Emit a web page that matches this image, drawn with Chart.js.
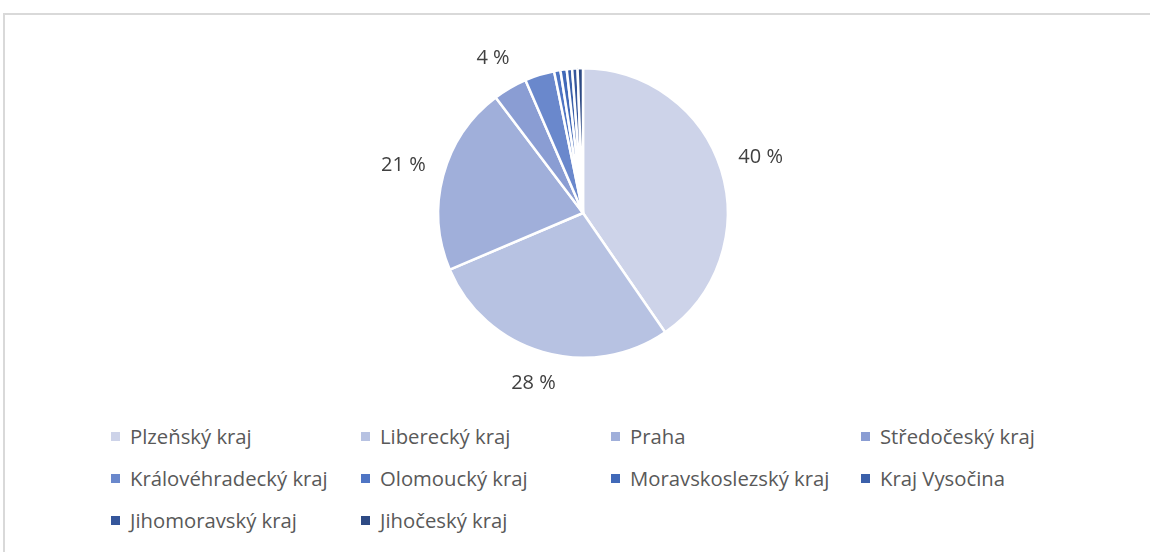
<!DOCTYPE html>
<html>
<head>
<meta charset="utf-8">
<script src="https://cdn.jsdelivr.net/npm/chart.js@4.4.0/dist/chart.umd.min.js"></script>
<style>
  html, body { margin: 0; padding: 0; background: #fff; }
  #wrap { position: relative; width: 1150px; height: 552px; overflow: hidden; }
  #frame { position: absolute; left: 3px; top: 13px; width: 1200px; height: 600px;
           border-top: 2px solid #d9d9d9; border-left: 2px solid #d9d9d9; box-sizing: border-box; }
  #chartBox { position: absolute; left: 0; top: 0; width: 1150px; height: 420px; }
  #legend { position: absolute; left: 111px; top: 424px; display: grid;
            grid-template-columns: 250px 250px 250px 250px; grid-auto-rows: 42px;
            font-family: 'Open Sans', sans-serif; font-size: 20.3px; color: #595959; }
  .item { display: flex; align-items: center; height: 24px; }
  .box { width: 9px; height: 9px; margin-right: 10px; flex: none; }
</style>
</head>
<body>
<div id="wrap">
  <div id="frame"></div>
  <div id="chartBox"><canvas id="pieChart"></canvas></div>
  <div id="legend"></div>
</div>
<script>
// Podíl krajů (v %)
const regions = [
  'Plzeňský kraj', 'Liberecký kraj', 'Praha', 'Středočeský kraj',
  'Královéhradecký kraj', 'Olomoucký kraj', 'Moravskoslezský kraj', 'Kraj Vysočina',
  'Jihomoravský kraj', 'Jihočeský kraj'
];
const shares = [40.4, 28.2, 21.1, 3.8, 3.3, 0.7, 0.7, 0.6, 0.6, 0.6];
const sliceColors = [
  '#cdd3e9', '#b7c2e2', '#a0afda', '#8a9dd3',
  '#6a88cc', '#4f75c4', '#4169b8', '#3b60aa', '#35569b', '#2e4a84'
];

// Popisky jen u větších výsečí (jako v originálu), umístěné vně výseče
const outsideLabels = {
  id: 'outsideLabels',
  afterDatasetsDraw(chart) {
    const ctx = chart.ctx;
    const meta = chart.getDatasetMeta(0);
    const data = chart.data.datasets[0].data;
    const total = data.reduce((a, b) => a + b, 0);
    ctx.save();
    ctx.font = '20px "Open Sans", sans-serif';
    ctx.fillStyle = '#404040';
    ctx.textAlign = 'center';
    ctx.textBaseline = 'middle';
    meta.data.forEach((arc, i) => {
      const pct = data[i] / total * 100;
      if (pct < 3.5) return;
      const text = Math.round(pct) + ' %';
      const w = ctx.measureText(text).width;
      const h = 20;
      const mid = (arc.startAngle + arc.endAngle) / 2;
      const cx = Math.cos(mid), sy = Math.sin(mid);
      const extent = Math.abs(cx) * w / 2 + Math.abs(sy) * h / 2;
      const dist = arc.outerRadius + 17 + extent;
      ctx.fillText(text, arc.x + cx * dist, arc.y + sy * dist);
    });
    ctx.restore();
  }
};

const chart = new Chart(document.getElementById('pieChart'), {
  type: 'pie',
  data: {
    labels: regions,
    datasets: [{
      data: shares,
      backgroundColor: sliceColors,
      borderColor: '#ffffff',
      borderWidth: 2.5
    }]
  },
  options: {
    responsive: true,
    maintainAspectRatio: false,
    animation: false,
    layout: { padding: { left: 437, right: 421, top: 67, bottom: 61 } },
    plugins: {
      legend: { display: false },
      tooltip: { enabled: false }
    }
  },
  plugins: [outsideLabels]
});

// Legenda v mřížce 4 sloupců
const legendEl = document.getElementById('legend');
regions.forEach((name, i) => {
  const item = document.createElement('div');
  item.className = 'item';
  item.innerHTML = '<span class="box" style="background:' + sliceColors[i] + '"></span><span>' + name + '</span>';
  legendEl.appendChild(item);
});
</script>
</body>
</html>
